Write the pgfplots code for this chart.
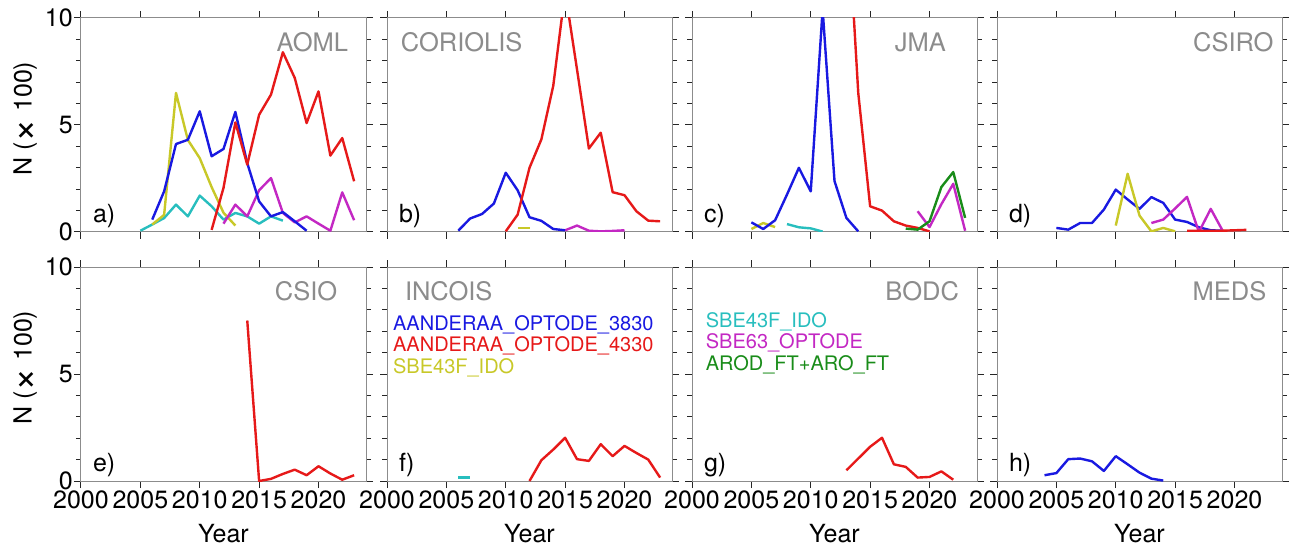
\documentclass[border=0pt]{standalone}
\usepackage{pgfplots}
\pgfplotsset{compat=1.18}
\usepackage{fontspec}
\setmainfont{TeX Gyre Heros}
\definecolor{cB}{RGB}{25,25,225}
\definecolor{cR}{RGB}{230,25,25}
\definecolor{cY}{RGB}{200,200,40}
\definecolor{cC}{RGB}{40,190,190}
\definecolor{cM}{RGB}{195,40,195}
\definecolor{cG}{RGB}{25,140,25}
\definecolor{labgray}{RGB}{140,140,140}
\newcommand{\fs}[1]{\fontsize{#1}{#1}\selectfont}
\newcommand{\ylab}{N (\raisebox{-0.2em}{\scalebox{1.6}{×}} 100)}
\pgfplotsset{
  panel/.style={
    scale only axis, width=285pt, height=214pt,
    xmin=2000, xmax=2024, ymin=0, ymax=10,
    xtick={2000,2005,...,2020}, ytick={0,5,10}, minor ytick={1,2,3,4,6,7,8,9},
    tick align=outside, xtick pos=both, ytick pos=both,
    major tick length=7pt, minor tick length=5pt,
    axis line style={black!45, line width=1pt},
    tick style={black!85, line width=1pt},
    /pgf/number format/assume math mode=true,
    /pgf/number format/1000 sep={},
    ticklabel style={font=\fs{25}},
    xticklabel style={inner sep=0pt, yshift=-2.5pt},
    yticklabel style={inner sep=0pt, xshift=-1pt},
    label style={font=\fs{25}},
    xlabel style={at={(axis description cs:0.5,0)}, anchor=base, yshift=-61pt},
    ylabel style={at={(axis description cs:-0.196,0.53)}, anchor=center},
    every axis plot/.append style={line width=2.4pt, line join=round, no marks, sharp plot},
  },
  toprow/.style={xticklabels={}},
  notleft/.style={yticklabels={}},
}
\newcommand{\pname}[3]{\node[anchor=base #1, text=labgray, font=\fs{25.5}, inner sep=0pt] at (axis cs:#2,8.43) {#3};}
\newcommand{\pletter}[1]{\node[anchor=base west, font=\fs{25}, inner sep=0pt] at (axis cs:2001,0.43) {#1};}
\begin{document}
\begin{tikzpicture}
% ---------- a) AOML
\begin{axis}[panel, toprow, at={(81pt,315pt)}, anchor=south west, ylabel={\ylab}]
\addplot[cC] coordinates {(2005,0.06)(2006,0.35)(2007,0.65)(2008,1.28)(2009,0.73)(2010,1.7)(2011,1.2)(2012,0.58)(2013,0.89)(2014,0.73)(2015,0.39)(2016,0.73)(2017,0.53)};
\addplot[cY] coordinates {(2006,0.35)(2007,0.8)(2008,6.5)(2009,4.3)(2010,3.45)(2011,2.1)(2012,0.9)(2013,0.3)};
\addplot[cM] coordinates {(2012,0.39)(2013,1.28)(2014,0.73)(2015,1.95)(2016,2.52)(2017,0.89)(2018,0.45)(2019,0.73)(2020,0.39)(2021,0.06)(2022,1.85)(2023,0.55)};
\addplot[cB] coordinates {(2006,0.58)(2007,1.9)(2008,4.11)(2009,4.31)(2010,5.64)(2011,3.54)(2012,3.88)(2013,5.61)(2014,3.22)(2015,1.43)(2016,0.73)(2017,0.93)(2018,0.5)(2019,0.06)};
\addplot[cR] coordinates {(2011,0.1)(2012,2.06)(2013,5.12)(2014,3.15)(2015,5.48)(2016,6.42)(2017,8.4)(2018,7.2)(2019,5.09)(2020,6.57)(2021,3.57)(2022,4.39)(2023,2.37)};
\pname{east}{2022.5}{AOML}
\pletter{a)}
\end{axis}
% ---------- b) CORIOLIS
\begin{axis}[panel, toprow, notleft, at={(387pt,315pt)}, anchor=south west]
\addplot[cY] coordinates {(2011,0.19)(2012,0.19)};
\addplot[cM] coordinates {(2015,0.08)(2016,0.3)(2017,0.06)(2018,0.03)(2019,0.05)(2020,0.08)};
\addplot[cB] coordinates {(2006,0.06)(2007,0.63)(2008,0.84)(2009,1.33)(2010,2.77)(2011,1.95)(2012,0.69)(2013,0.52)(2014,0.14)(2015,0.08)};
\addplot[cR] coordinates {(2010,0.03)(2011,0.81)(2012,3.0)(2013,4.33)(2014,6.83)(2015,11.25)(2016,7.6)(2017,3.9)(2018,4.64)(2019,1.86)(2020,1.72)(2021,0.97)(2022,0.53)(2023,0.5)};
\pname{west}{2001.15}{CORIOLIS}
\pletter{b)}
\end{axis}
% ---------- c) JMA
\begin{axis}[panel, toprow, notleft, at={(692pt,315pt)}, anchor=south west]
\addplot[cY] coordinates {(2005,0.14)(2006,0.42)(2007,0.23)};
\addplot[cC] coordinates {(2008,0.37)(2009,0.22)(2010,0.17)(2011,0.02)};
\addplot[cB] coordinates {(2005,0.45)(2006,0.14)(2007,0.55)(2008,1.75)(2009,3.0)(2010,1.9)(2011,10.4)(2012,2.38)(2013,0.66)(2014,0.03)};
\addplot[cR] coordinates {(2013,16)(2014,6.5)(2015,1.2)(2016,1.0)(2017,0.5)(2018,0.3)(2019,0.19)(2020,0.03)};
\addplot[cM] coordinates {(2019,0.97)(2020,0.23)(2021,1.3)(2022,2.25)(2023,0.06)};
\addplot[cG] coordinates {(2018,0.16)(2019,0.11)(2020,0.5)(2021,2.1)(2022,2.8)(2023,0.66)};
\pname{east}{2021.4}{JMA}
\pletter{c)}
\end{axis}
% ---------- d) CSIRO
\begin{axis}[panel, toprow, notleft, at={(997pt,315pt)}, anchor=south west]
\addplot[cB] coordinates {(2005,0.19)(2006,0.11)(2007,0.42)(2008,0.42)(2009,1.05)(2010,1.98)(2011,1.52)(2012,1.08)(2013,1.63)(2014,1.36)(2015,0.58)(2016,0.47)(2017,0.22)(2018,0.08)(2019,0.06)};
\addplot[cY] coordinates {(2010,0.3)(2011,2.72)(2012,0.77)(2013,0.03)(2014,0.19)(2015,0.03)};
\addplot[cM] coordinates {(2013,0.42)(2014,0.58)(2015,1.1)(2016,1.64)(2017,0.0)(2018,1.08)(2019,0.06)};
\addplot[cR] coordinates {(2016,0.06)(2017,0.06)(2018,0.06)(2019,0.06)(2020,0.08)(2021,0.1)};
\pname{east}{2023.3}{CSIRO}
\pletter{d)}
\end{axis}
% ---------- e) CSIO
\begin{axis}[panel, at={(81pt,66pt)}, anchor=south west, ylabel={\ylab}, xlabel={Year}]
\addplot[cR] coordinates {(2014,7.5)(2015,0)(2016,0.1)(2017,0.33)(2018,0.53)(2019,0.27)(2020,0.69)(2021,0.35)(2022,0.06)(2023,0.27)};
\pname{east}{2021.6}{CSIO}
\pletter{e)}
\end{axis}
% ---------- f) INCOIS
\begin{axis}[panel, notleft, at={(387pt,66pt)}, anchor=south west, xlabel={Year}]
\addplot[cC] coordinates {(2006,0.16)(2007,0.16)};
\addplot[cR] coordinates {(2012,0)(2013,0.97)(2014,1.47)(2015,2.02)(2016,1.02)(2017,0.94)(2018,1.72)(2019,1.16)(2020,1.64)(2021,1.31)(2022,1.0)(2023,0.16)};
\pname{west}{2001.5}{INCOIS}
\node[anchor=base west, text=cB, font=\fs{20}, inner sep=0pt] at (axis cs:2000.5,7.02) {AANDERAA\_OPTODE\_3830};
\node[anchor=base west, text=cR, font=\fs{20}, inner sep=0pt] at (axis cs:2000.5,6.04) {AANDERAA\_OPTODE\_4330};
\node[anchor=base west, text=cY, font=\fs{20}, inner sep=0pt] at (axis cs:2000.5,5.03) {SBE43F\_IDO};
\pletter{f)}
\end{axis}
% ---------- g) BODC
\begin{axis}[panel, notleft, at={(692pt,66pt)}, anchor=south west, xlabel={Year}]
\addplot[cR] coordinates {(2013,0.5)(2014,1.05)(2015,1.6)(2016,2.02)(2017,0.78)(2018,0.66)(2019,0.16)(2020,0.19)(2021,0.45)(2022,0.06)};
\pname{east}{2022.5}{BODC}
\node[anchor=base west, text=cC, font=\fs{20}, inner sep=0pt] at (axis cs:2001.15,7.19) {SBE43F\_IDO};
\node[anchor=base west, text=cM, font=\fs{20}, inner sep=0pt] at (axis cs:2001.15,6.17) {SBE63\_OPTODE};
\node[anchor=base west, text=cG, font=\fs{20}, inner sep=0pt] at (axis cs:2001.15,5.17) {AROD\_FT+ARO\_FT};
\pletter{g)}
\end{axis}
% ---------- h) MEDS
\begin{axis}[panel, notleft, at={(997pt,66pt)}, anchor=south west, xlabel={Year}]
\addplot[cB] coordinates {(2004,0.27)(2005,0.37)(2006,1.02)(2007,1.05)(2008,0.92)(2009,0.47)(2010,1.16)(2011,0.78)(2012,0.39)(2013,0.11)(2014,0.02)};
\pname{east}{2022.7}{MEDS}
\pletter{h)}
\end{axis}
\pgfresetboundingbox
\path[use as bounding box] (0pt,0pt) rectangle (1293pt,547pt);
\end{tikzpicture}
\end{document}
